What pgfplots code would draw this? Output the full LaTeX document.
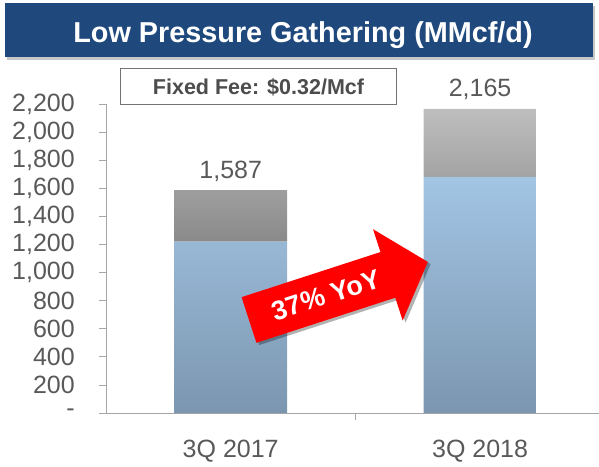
\documentclass[border=0pt]{standalone}
\usepackage{pgfplots}
\pgfplotsset{compat=1.18}
\usepackage{fontspec}
\setmainfont{Liberation Sans}
\definecolor{banner}{RGB}{31,73,125}
\definecolor{txtgray}{RGB}{89,89,89}
\definecolor{axgray}{RGB}{166,166,166}
\definecolor{bluetop}{RGB}{162,197,228}
\definecolor{bluebot}{RGB}{124,150,176}
\definecolor{graytop}{RGB}{190,190,190}
\definecolor{graybot}{RGB}{138,138,138}
\definecolor{arrowred}{RGB}{255,0,0}
\begin{document}
\begin{tikzpicture}[x=1pt,y=1pt]
\useasboundingbox (0,0) rectangle (599,466);
% banner
\fill[black!22] (7,466-60) rectangle (595,466-6);
\fill[banner] (5,466-57) rectangle (593,466-3);
\node[font=\bfseries\fontsize{28.8}{28.8}\selectfont, text=white, anchor=base, inner sep=0pt] at (303,466-43) {Low Pressure Gathering (MMcf/d)};
\begin{axis}[
  at={(106pt,53pt)}, anchor=south west,
  width=493pt, height=309pt, scale only axis,
  xmin=-0.5, xmax=1.477, ymin=0, ymax=2200,
  axis lines=left, axis line style={-, draw=axgray, line width=0.8pt},
  ybar stacked, bar width=113pt,
  xtick={0,1}, xticklabels={3Q 2017,3Q 2018},
  ytick={0,200,...,2200},
  yticklabels={-,200,400,600,800,{1,000},{1,200},{1,400},{1,600},{1,800},{2,000},{2,200}},
  tick align=outside, major tick length=7pt,
  tick style={draw=axgray, line width=0.8pt},
  x tick style={draw=none},
  extra x ticks={0.5}, extra x tick labels={},
  extra x tick style={x tick style={draw=axgray, line width=0.8pt}},
  ticklabel style={font=\fontsize{25}{25}\selectfont, text=txtgray},
  yticklabel style={inner sep=0pt, xshift=-24pt},
  xticklabel style={anchor=base, inner sep=0pt, yshift=-37pt},
  clip=false,
]
\addplot[draw=none, top color=bluetop, bottom color=bluebot] coordinates {(0,1220) (1,1680)};
\addplot[draw=none, top color=graytop, bottom color=graybot] coordinates {(0,367) (1,485)};
\node[anchor=base, inner sep=0pt, text=txtgray, font=\fontsize{25}{25}\selectfont, yshift=12pt] at (axis cs:0,1587) {1,587};
\node[anchor=base, inner sep=0pt, text=txtgray, font=\fontsize{25}{25}\selectfont, yshift=12pt] at (axis cs:1,2165) {2,165};
\end{axis}
% fixed fee box
\draw[draw=black!55, line width=1pt, fill=white] (120,466-105) rectangle (396,466-69);
\node[font=\bfseries\fontsize{21.5}{21.5}\selectfont, text=black!70, inner sep=0pt] at (258.5,466-87) {Fixed Fee: \$0.32/Mcf};
% arrow
\begin{scope}[shift={(249,146)}, rotate=18]
  \fill[black, opacity=0.3, shift={(2,-3)}] (0,-24) -- (146,-24) -- (146,-48) -- (188,0) -- (146,48) -- (146,24) -- (0,24) -- cycle;
  \fill[arrowred] (0,-24) -- (146,-24) -- (146,-48) -- (188,0) -- (146,48) -- (146,24) -- (0,24) -- cycle;
  \node[text=white, font=\bfseries\fontsize{27}{27}\selectfont, rotate=18, inner sep=0pt] at (81,0) {37\% YoY};
\end{scope}
\end{tikzpicture}
\end{document}
